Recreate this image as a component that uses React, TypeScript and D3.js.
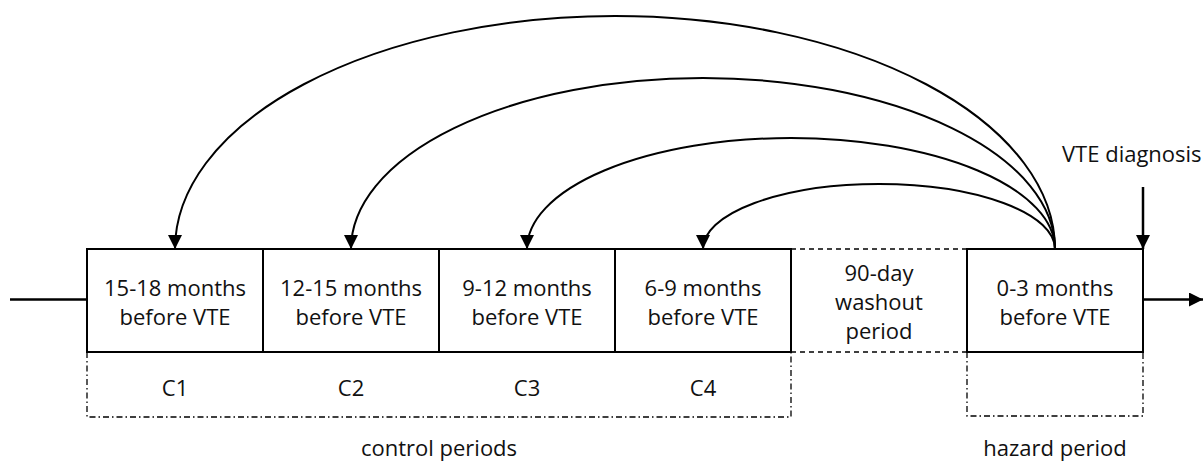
import React from "react";
import * as d3 from "d3";

// Periods along the timeline, oldest first
const periodLines: string[][] = [
  ["15-18 months", "before VTE"],
  ["12-15 months", "before VTE"],
  ["9-12 months", "before VTE"],
  ["6-9 months", "before VTE"],
  ["90-day", "washout", "period"],
  ["0-3 months", "before VTE"],
];
const periodKinds = ["control", "control", "control", "control", "washout", "hazard"];
const controlLabels = ["C1", "C2", "C3", "C4"];
// height of each comparison arc above the timeline (px)
const arcHeights = [233, 171, 111, 65];

const W = 1203;
const H = 464;
const FONT = "'Open Sans', 'Liberation Sans', sans-serif";
const FS = 22;

const App = () => {
  const x = d3.scaleLinear().domain([0, periodLines.length]).range([87, 1143]);
  const top = 249;
  const bottom = 352;
  const lowBox = 417;
  const midY = (top + bottom) / 2;
  const cx = (i: number) => x(i + 0.5);

  const hazardIdx = periodKinds.indexOf("hazard");
  const washIdx = periodKinds.indexOf("washout");
  const originX = cx(hazardIdx);

  const dashDot = "6,3,1.5,3";

  return (
    <svg width={W} height={H} style={{ position: "absolute", left: 0, top: 0, background: "#fff" }}>
      <defs>
        <marker id="head" viewBox="0 0 14 14" refX="14" refY="7" markerWidth="14" markerHeight="14"
          markerUnits="userSpaceOnUse" orient="auto">
          <path d="M0,0 L14,7 L0,14 Z" fill="#000" />
        </marker>
      </defs>

      {/* timeline in and out */}
      <line x1={10} x2={x(0)} y1={midY - 1} y2={midY - 1} stroke="#000" strokeWidth={2.5} />
      <line x1={x(periodLines.length)} x2={W} y1={midY - 1} y2={midY - 1} stroke="#000" strokeWidth={2.5}
        markerEnd="url(#head)" />

      {/* period boxes */}
      {periodLines.map((lines, i) => {
        const x0 = x(i);
        const x1 = x(i + 1);
        const washout = periodKinds[i] === "washout";
        const n = lines.length;
        const lh = 29;
        const y0 = midY - ((n - 1) * lh) / 2 + 9.5;
        return (
          <g key={i}>
            {washout ? (
              <g stroke="#000" strokeWidth={1.5} strokeDasharray="5,4">
                <line x1={x0} x2={x1} y1={top} y2={top} />
                <line x1={x0} x2={x1} y1={bottom} y2={bottom} />
              </g>
            ) : (
              <rect x={x0} y={top} width={x1 - x0} height={bottom - top} fill="none" stroke="#000" strokeWidth={2} />
            )}
            {lines.map((t, j) => (
              <text key={j} x={cx(i)} y={y0 + j * lh} textAnchor="middle" fontFamily={FONT} fontSize={FS}
                fill="#111">{t}</text>
            ))}
          </g>
        );
      })}

      {/* control periods bracket */}
      <path
        d={`M${x(0)},${bottom} V${lowBox} H${x(washIdx)} V${bottom}`}
        fill="none" stroke="#000" strokeWidth={1.3} strokeDasharray={dashDot}
      />
      {controlLabels.map((c, i) => (
        <text key={c} x={cx(i)} y={396} textAnchor="middle" fontFamily={FONT} fontSize={FS} fill="#111">{c}</text>
      ))}
      <text x={(x(0) + x(washIdx)) / 2} y={456} textAnchor="middle" fontFamily={FONT} fontSize={FS} fill="#111">
        control periods
      </text>

      {/* hazard period bracket */}
      <path
        d={`M${x(hazardIdx)},${bottom} V${lowBox - 1} H${x(hazardIdx + 1)} V${bottom}`}
        fill="none" stroke="#000" strokeWidth={1.3} strokeDasharray={dashDot}
      />
      <text x={originX} y={456} textAnchor="middle" fontFamily={FONT} fontSize={FS} fill="#111">hazard period</text>

      {/* comparison arcs from hazard to each control period */}
      {controlLabels.map((c, i) => {
        const tx = cx(i);
        const rx = (originX - tx) / 2;
        const ry = arcHeights[i];
        return (
          <path key={c} d={`M${originX},${top} A${rx},${ry} 0 0 0 ${tx},${top}`} fill="none" stroke="#000"
            strokeWidth={2} markerEnd="url(#head)" />
        );
      })}

      {/* VTE diagnosis */}
      <line x1={x(periodLines.length)} x2={x(periodLines.length)} y1={187} y2={top} stroke="#000" strokeWidth={2.5}
        markerEnd="url(#head)" />
      <text x={1062} y={162} fontFamily={FONT} fontSize={FS} fill="#111">VTE diagnosis</text>
    </svg>
  );
};

export default App;
